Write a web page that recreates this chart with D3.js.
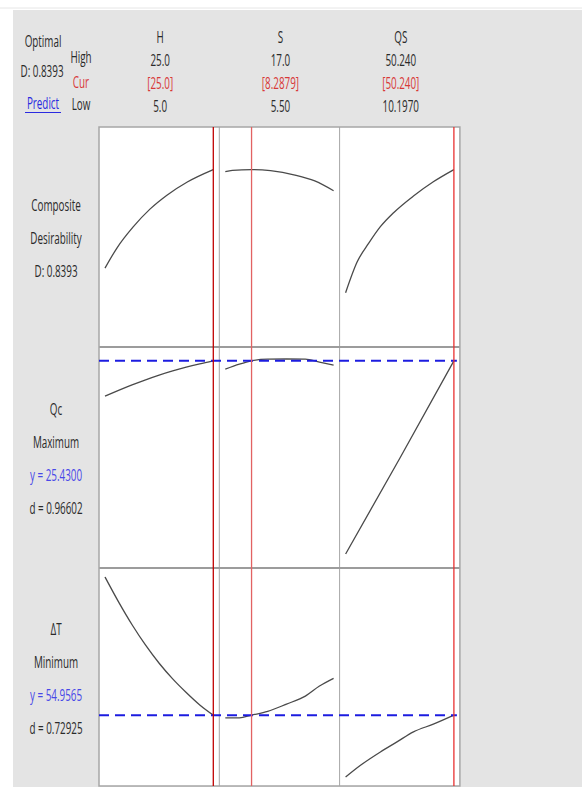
<!DOCTYPE html>
<html>
<head>
<meta charset="utf-8">
<script src="https://cdn.jsdelivr.net/npm/d3@7"></script>
<style>
  body { margin: 0; background: #fff; }
  text { font-family: "Open Sans", "Noto Sans", sans-serif; font-size: 17px; fill: #2a2a2a; }
</style>
</head>
<body>
<div id="chart"></div>
<script>
// factor settings
const factors = ["H", "S", "QS"];
const factorLow = [5, 5.5, 10.197];
const factorHigh = [25, 17, 50.24];
const factorCur = [25, 8.2879, 50.24];
const highLabels = ["25.0", "17.0", "50.240"];
const curLabels = ["[25.0]", "[8.2879]", "[50.240]"];
const lowLabels = ["5.0", "5.50", "10.1970"];

// composite desirability
const desH_x = [5, 7.2, 10.2, 13.3, 16.5, 20.2, 25];
const desH_y = [0.368, 0.464, 0.565, 0.650, 0.718, 0.780, 0.8393];
const desS_x = [5.5, 6.25, 8.2879, 10.3, 12.9, 15.0, 17];
const desS_y = [0.829, 0.836, 0.8393, 0.834, 0.813, 0.785, 0.738];
const desQS_x = [10.197, 14.49, 18.76, 23.05, 27.94, 35.29, 42.63, 50.24];
const desQS_y = [0.250, 0.398, 0.487, 0.566, 0.633, 0.713, 0.781, 0.8393];

// Qc (maximize)
const qcH_x = [5, 7.5, 10, 12.5, 15, 17.5, 20, 22.5, 25];
const qcH_y = [21.70, 22.30, 22.88, 23.42, 23.92, 24.36, 24.76, 25.11, 25.43];
const qcS_x = [5.5, 7.0, 8.2879, 10, 12, 14, 15.5, 17];
const qcS_y = [24.55, 25.08, 25.43, 25.60, 25.62, 25.60, 25.29, 24.98];
const qcQS_x = [10.197, 30.4, 50.24];
const qcQS_y = [5.0, 15.2, 25.43];

// delta T (minimize)
const dtH_x = [5, 7.5, 10, 12.5, 15, 17.5, 20, 22.5, 25];
const dtH_y = [89.4, 83.2, 77.5, 72.4, 67.9, 64.0, 60.6, 57.5, 54.9565];
const dtS_x = [5.5, 7.0, 8.2879, 10, 12, 14, 15.5, 17];
const dtS_y = [54.28, 54.28, 54.9565, 55.88, 57.71, 59.71, 62.21, 64.13];
const dtQS_x = [10.197, 15.71, 23.06, 29.19, 35.29, 42.64, 50.24];
const dtQS_y = [39.53, 42.46, 45.78, 48.28, 50.78, 52.71, 54.9565];

// row labels
const rowLabels = [
  ["Composite", "Desirability", "D: 0.8393"],
  ["Qc", "Maximum", "y = 25.4300", "d = 0.96602"],
  ["\u0394T", "Minimum", "y = 54.9565", "d = 0.72925"]
];
const targets = [null, 25.43, 54.9565];

const W = 582, H = 787;
const gridLeft = 99, gridTop = 127, colW = 120.3;
const rowTops = [127, 347, 568], rowBottoms = [347, 568, 786];
const gridRight = gridLeft + 3 * colW;
const colPad = 6;
const squeeze = 0.58;

const svg = d3.select("#chart").append("svg")
  .attr("width", W).attr("height", H);

// background
svg.append("rect").attr("x", 13).attr("y", 10).attr("width", W - 13).attr("height", H - 10)
  .attr("fill", "#e4e4e4");
svg.append("line").attr("x1", 0).attr("x2", W).attr("y1", 8).attr("y2", 8)
  .attr("stroke", "#e6e6e6");

// x scales, one per factor column
const xScales = factors.map((f, i) => d3.scaleLinear()
  .domain([factorLow[i], factorHigh[i]])
  .range([gridLeft + i * colW + colPad, gridLeft + (i + 1) * colW - colPad]));

// y scales, one per row
const yScales = [
  d3.scaleLinear().domain([0, 1]).range([rowBottoms[0] - 2, rowTops[0] + 9]),
  d3.scaleLinear().domain([5.0, 25.62]).range([rowBottoms[1] - 14, rowTops[1] + 12]),
  d3.scaleLinear().domain([39.53, 89.4]).range([rowBottoms[2] - 9, rowTops[2] + 9])
];

const series = [
  [[desH_x, desH_y], [desS_x, desS_y], [desQS_x, desQS_y]],
  [[qcH_x, qcH_y], [qcS_x, qcS_y], [qcQS_x, qcQS_y]],
  [[dtH_x, dtH_y], [dtS_x, dtS_y], [dtQS_x, dtQS_y]]
];

// panel backgrounds
svg.append("rect")
  .attr("x", gridLeft).attr("y", gridTop)
  .attr("width", gridRight - gridLeft).attr("height", rowBottoms[2] - gridTop)
  .attr("fill", "#fff");

// curves
const plot = svg.append("g").attr("class", "curves");
series.forEach((row, r) => {
  row.forEach((s, c) => {
    const pts = s[0].map((x, k) => [x, s[1][k]]);
    const line = d3.line()
      .curve(d3.curveMonotoneX)
      .x(d => xScales[c](d[0]))
      .y(d => yScales[r](d[1]));
    plot.append("path")
      .datum(pts)
      .attr("d", line)
      .attr("fill", "none")
      .attr("stroke", "#4a4a4a")
      .attr("stroke-width", 1.3);
  });
});

// grid lines
const grid = svg.append("g").attr("class", "grid");
d3.range(1, 3).forEach(i => {
  grid.append("line")
    .attr("x1", gridLeft + i * colW).attr("x2", gridLeft + i * colW)
    .attr("y1", gridTop).attr("y2", rowBottoms[2])
    .attr("stroke", "#a6a6a6").attr("stroke-width", 1);
});
rowBottoms.slice(0, 2).forEach(y => {
  grid.append("line")
    .attr("x1", gridLeft).attr("x2", gridRight)
    .attr("y1", y).attr("y2", y)
    .attr("stroke", "#9c9c9c").attr("stroke-width", 2);
});
grid.append("rect")
  .attr("x", gridLeft).attr("y", gridTop)
  .attr("width", gridRight - gridLeft).attr("height", rowBottoms[2] - gridTop)
  .attr("fill", "none").attr("stroke", "#a6a6a6").attr("stroke-width", 1.5);

// target lines
targets.forEach((t, r) => {
  if (t === null) return;
  svg.append("line")
    .attr("x1", gridLeft).attr("x2", gridRight - 3)
    .attr("y1", yScales[r](t)).attr("y2", yScales[r](t))
    .attr("stroke", "#1c1ce0").attr("stroke-width", 2)
    .attr("stroke-dasharray", "10,6");
});

// current setting lines
const curColors = ["#c00000", "#e26262", "#e83030"];
factorCur.forEach((v, i) => {
  svg.append("line")
    .attr("x1", xScales[i](v)).attr("x2", xScales[i](v))
    .attr("y1", gridTop).attr("y2", rowBottoms[2])
    .attr("stroke", curColors[i]).attr("stroke-width", 1.3);
});

// text helper: narrow text via horizontal squeeze
function label(x, y, txt, color, anchor) {
  return svg.append("text")
    .attr("transform", `translate(${x},${y}) scale(${squeeze},1)`)
    .attr("text-anchor", anchor || "middle")
    .style("fill", color || "#2a2a2a")
    .text(txt);
}

// header
factors.forEach((f, i) => {
  const cx = gridLeft + (i + 0.5) * colW + 1;
  label(cx, 43, f);
  label(cx, 66, highLabels[i]);
  label(cx, 89, curLabels[i], "#d83838");
  label(cx, 112, lowLabels[i]);
});
label(43, 47, "Optimal");
label(42, 77, "D: 0.8393");
label(43, 109, "Predict", "#2a2ae0");
svg.append("line").attr("x1", 25).attr("x2", 61).attr("y1", 112.5).attr("y2", 112.5)
  .attr("stroke", "#2a2ae0").attr("stroke-width", 1);
label(81, 63, "High");
label(81, 88, "Cur", "#d83838");
label(81, 110, "Low");

// row labels
rowLabels.forEach((lines, r) => {
  const mid = (rowTops[r] + rowBottoms[r]) / 2;
  const n = lines.length;
  lines.forEach((t, k) => {
    const y = mid + (k - (n - 1) / 2) * 33 + 7;
    const blue = t.startsWith("y =");
    label(56, y, t, blue ? "#4848e8" : null);
  });
});
</script>
</body>
</html>
